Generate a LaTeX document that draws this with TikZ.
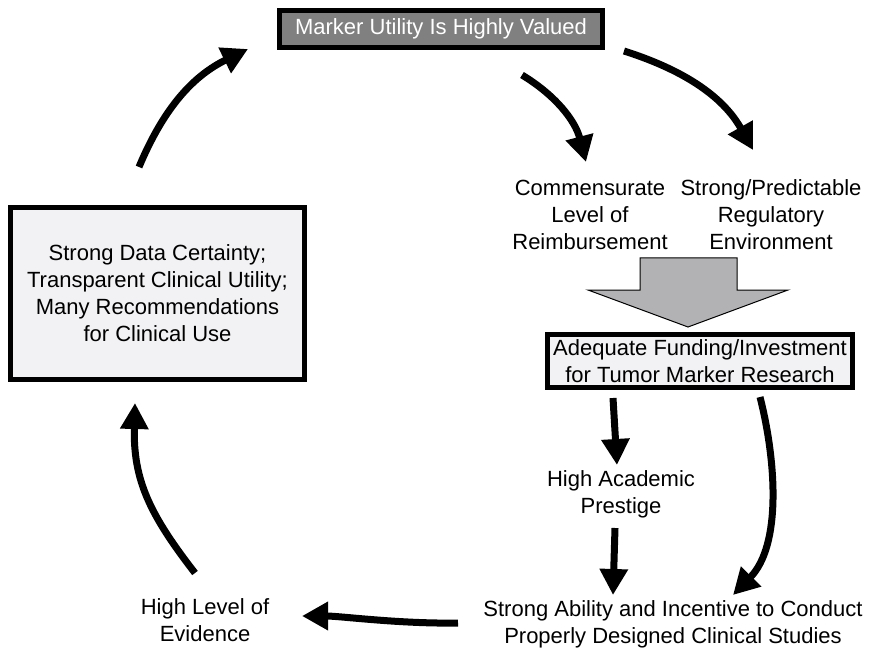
\documentclass[tikz,border=0pt]{standalone}
\usepackage{fontspec}
\setmainfont{Liberation Sans}
\usetikzlibrary{arrows.meta}

\definecolor{valuedgray}{RGB}{128,128,128}
\definecolor{panelfill}{RGB}{242,242,244}
\definecolor{blockfill}{RGB}{178,178,180}

\tikzset{
  flow/.style={line width=7pt,-{Triangle[length=26pt,width=27pt]}},
  label/.style={align=center,font=\fontsize{22}{27}\selectfont,inner sep=0pt},
  panel/.style={label,draw=black,line width=5pt,fill=panelfill}
}

\begin{document}
\begin{tikzpicture}[x=1pt,y=-1pt]
    \useasboundingbox (0,0) rectangle (873,655);
    % boxes
    \node[panel,fill=valuedgray,text=white,minimum width=323,minimum height=37] (valued) at (441,29) {Marker Utility Is Highly Valued};
    \node[panel,minimum width=305,minimum height=53] (funding) at (700,361) {Adequate Funding/Investment\\for Tumor Marker Research};
    \node[panel,minimum width=294,minimum height=172] (certainty) at (157.5,293.5) {Strong Data Certainty;\\Transparent Clinical Utility;\\Many Recommendations\\for Clinical Use};
    % plain texts
    \node[label] (reimb) at (590,215) {Commensurate\\Level of\\Reimbursement};
    \node[label] (regul) at (771,215) {Strong/Predictable\\Regulatory\\Environment};
    \node[label] (prestige) at (621,494) {High Academic\\Prestige};
    \node[label] (studies) at (673,624) {Strong Ability and Incentive to Conduct\\Properly Designed Clinical Studies};
    \node[label] (evidence) at (205,620) {High Level of\\Evidence};
    % block arrow
    \draw[fill=blockfill,line width=1pt,line join=miter] (640,258) -- (737,258) -- (737,290) -- (788,290) -- (688,327) -- (588,290) -- (640,290) -- cycle;
    % arrow ends
    \coordinate (c1) at (139,167); \coordinate (c2) at (248,49);
    \coordinate (v1) at (522,75);  \coordinate (v2) at (586,162);
    \coordinate (v3) at (624,51);  \coordinate (v4) at (753,150);
    \coordinate (f1) at (613,398); \coordinate (f2) at (617,465);
    \coordinate (p1) at (615,528); \coordinate (p2) at (613,595);
    \coordinate (f3) at (760,397); \coordinate (s1) at (733,595);
    \coordinate (s2) at (458,623); \coordinate (e1) at (302,616);
    \coordinate (e2) at (195,573); \coordinate (c3) at (135,403);
    % arrows
    \draw[flow] (c1) .. controls (165,105) and (195,75) .. (c2);
    \draw[flow] (v1) .. controls (555,95) and (575,120) .. (v2);
    \draw[flow] (v3) .. controls (690,72) and (725,100) .. (v4);
    \draw[flow] (f1) -- (f2);
    \draw[flow] (p1) -- (p2);
    \draw[flow] (f3) .. controls (776,460) and (782,545) .. (s1);
    \draw[flow] (s2) .. controls (400,624) and (340,616) .. (e1);
    \draw[flow] (e2) .. controls (150,515) and (133,480) .. (c3);
\end{tikzpicture}
\end{document}
